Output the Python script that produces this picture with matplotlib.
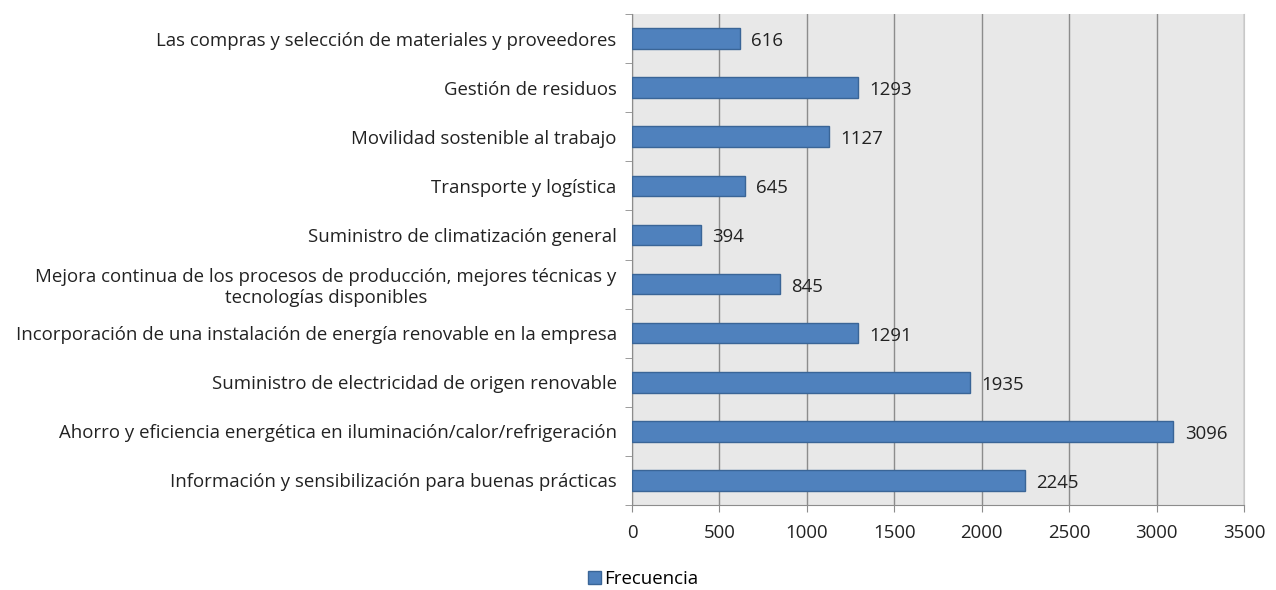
import numpy as np
import matplotlib.pyplot as plt
import matplotlib.patches as mpatches

plt.rcParams['font.family'] = ['Open Sans', 'DejaVu Sans']

# datos (de arriba a abajo)
categorias = [
    "Las compras y selección de materiales y proveedores",
    "Gestión de residuos",
    "Movilidad sostenible al trabajo",
    "Transporte y logística",
    "Suministro de climatización general",
    "Mejora continua de los procesos de producción, mejores técnicas y\ntecnologías disponibles",
    "Incorporación de una instalación de energía renovable en la empresa",
    "Suministro de electricidad de origen renovable",
    "Ahorro y eficiencia energética en iluminación/calor/refrigeración",
    "Información y sensibilización para buenas prácticas",
]
frecuencia = [616, 1293, 1127, 645, 394, 845, 1291, 1935, 3096, 2245]
xticks = [0, 500, 1000, 1500, 2000, 2500, 3000, 3500]

color_barra = '#4f81bd'
color_borde = '#3a6597'
gris = '#8c8c8c'
fs = 13.4

fig = plt.figure(figsize=(12.76, 5.9), dpi=100)
ax = fig.add_axes([632 / 1276, 1 - 505 / 590, (1244 - 632) / 1276, (505 - 14) / 590])
ax.set_facecolor('#e8e8e8')

pos = np.arange(len(categorias))[::-1]
ax.barh(pos, frecuencia, height=0.42, color=color_barra, edgecolor=color_borde, linewidth=1, zorder=3)

for p, v in zip(pos, frecuencia):
    ax.text(v + 65, p - 0.05, str(v), va='center', ha='left', fontsize=fs, color='#222222', zorder=4)

ax.set_xlim(0, 3500)
ax.set_ylim(-0.5, len(categorias) - 0.5)
ax.set_xticks(xticks)
ax.set_xticklabels([str(t) for t in xticks], fontsize=fs, color='#222222')
ax.set_yticks(pos)
ax.set_yticklabels(categorias, fontsize=fs, color='#222222', ha='right', multialignment='center',
                   linespacing=1.2)
ax.set_yticks(np.arange(len(categorias) + 1) - 0.5, minor=True)

ax.grid(axis='x', color=gris, linewidth=1, zorder=1)
ax.tick_params(axis='y', which='major', length=0, pad=11)
ax.tick_params(axis='y', which='minor', length=5, color=gris, direction='out')
ax.tick_params(axis='x', length=5, color=gris, direction='out', pad=9)

for lado in ['left', 'bottom']:
    ax.spines[lado].set_color(gris)
ax.spines['right'].set_color('#c8c8c8')
ax.spines['top'].set_visible(False)

leyenda = [mpatches.Patch(facecolor=color_barra, edgecolor=color_borde, label='Frecuencia')]
fig.legend(handles=leyenda, loc='center', bbox_to_anchor=(643 / 1276, 1 - 579 / 590), frameon=False,
           fontsize=fs, handlelength=0.7, handleheight=0.7, handletextpad=0.2)

fig.savefig('out.png', dpi=100)
